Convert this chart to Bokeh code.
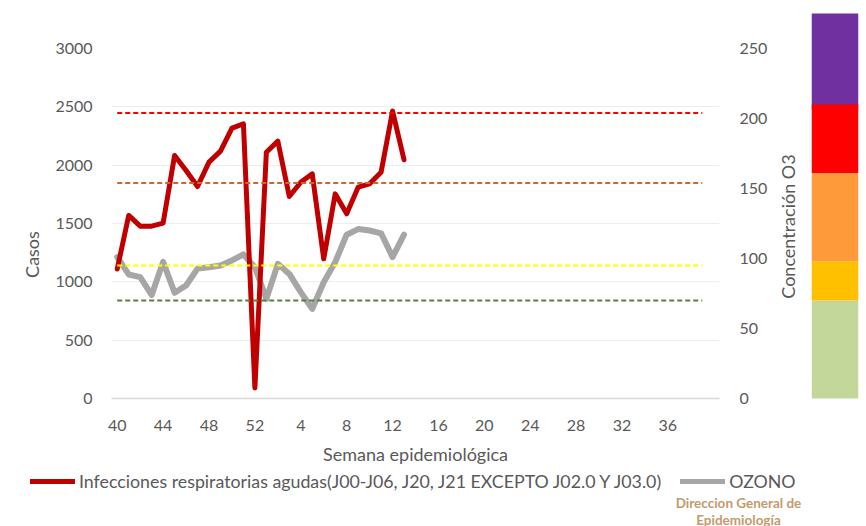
from bokeh.plotting import figure
from bokeh.layouts import row, column
from bokeh.models import Range1d, LinearAxis, FixedTicker, Legend, LegendItem, Label
from bokeh.embed import file_html
from bokeh.resources import INLINE

# ---------------- data ----------------
weeks = list(range(40, 53)) + list(range(1, 41))          # epidemiological weeks (categories)
tick_step = 4
cases = [1110, 1569, 1477, 1477, 1503, 2083, 1954, 1817, 2026, 2120, 2317, 2354, 91,
         2111, 2206, 1731, 1854, 1926, 1197, 1754, 1583, 1811, 1840, 1940, 2463, 2046]
ozone = [101, 88.6, 86.7, 74, 97.6, 75.5, 80.7, 92.8, 93.8, 95, 98.6, 102.9, 93.8,
         71.2, 96.2, 89, 76, 64, 83, 97.4, 117, 121, 120, 118, 101, 117]
threshold_values = [204, 154, 95, 70]
threshold_colors = ["#FF0000", "#D0652A", "#FFFF00", "#548235"]
threshold_last_week = 39
band_bottoms = [0, 70, 98, 206.5, 161]
band_tops = [70, 98, 161, 276, 210]
band_colors = ["#C4D79B", "#FFC000", "#FF9A3A", "#7030A0", "#FF0000"]
cases_ticks = list(range(0, 3001, 500))
ozone_ticks = list(range(0, 251, 50))
ozone_max = 250

cases_title = "Casos"
ozone_title = "Concentración O3"
week_title = "Semana epidemiológica"
series_label = "Infecciones respiratorias agudas(J00-J06, J20, J21 EXCEPTO J02.0 Y J03.0)"
ozone_label = "OZONO"
credit_lines = ["Direccion General de", "Epidemiología"]

FONT = "Lato"
TXT = "#595959"
RED = "#C00000"
GREY = "#A6A6A6"


def bare(fig):
    fig.grid.visible = False
    fig.outline_line_color = None
    fig.background_fill_color = "white"
    fig.border_fill_color = "white"


def style_axis(ax, label_px="16px"):
    ax.axis_line_color = None
    ax.major_tick_line_color = None
    ax.minor_tick_line_color = None
    ax.major_tick_out = 0
    ax.major_tick_in = 0
    ax.minor_tick_out = 0
    ax.minor_tick_in = 0
    ax.major_label_text_font = FONT
    ax.major_label_text_font_size = label_px
    ax.major_label_text_color = TXT
    ax.axis_label_text_font = FONT
    ax.axis_label_text_font_size = "18px"
    ax.axis_label_text_font_style = "normal"
    ax.axis_label_text_color = TXT


# ---------------- main chart ----------------
p = figure(width=718, height=470,
           x_range=Range1d(-0.5, len(weeks) - 0.5), y_range=Range1d(0, 3000),
           output_backend="svg", toolbar_location=None,
           min_border_left=57, min_border_right=48, min_border_top=48, min_border_bottom=72)
p.outline_line_color = None
p.background_fill_color = "white"
p.border_fill_color = "white"
p.extra_y_ranges = {"o3": Range1d(0, ozone_max)}

ya = p.yaxis[0]
style_axis(ya)
ya.ticker = FixedTicker(ticks=cases_ticks)
ya.major_label_standoff = 19

tick_idx = list(range(0, 49, tick_step))
xa = p.xaxis[0]
style_axis(xa)
xa.ticker = FixedTicker(ticks=tick_idx)
xa.major_label_overrides = {i: str(weeks[i]) for i in tick_idx}
xa.axis_label = week_title
xa.axis_line_color = "#D9D9D9"
xa.axis_line_width = 1.5
xa.major_label_standoff = 21
xa.axis_label_standoff = 9

ra = LinearAxis(y_range_name="o3", ticker=FixedTicker(ticks=ozone_ticks))
style_axis(ra)
ra.major_label_standoff = 20
p.add_layout(ra, "right")

p.xgrid.visible = False
p.ygrid.grid_line_color = "#EDEDED"
p.ygrid.grid_line_width = 1

x_oz = list(range(len(ozone)))
x_cases = list(range(len(cases)))
p.line(x_oz, ozone, y_range_name="o3", line_color=GREY, line_width=6,
       line_join="round", line_cap="round")
p.line(x_cases, cases, line_color=RED, line_width=5,
       line_join="round", line_cap="round")

x_end = weeks.index(threshold_last_week, 13)
p.segment(x0=[0] * len(threshold_values), x1=[x_end] * len(threshold_values),
          y0=threshold_values, y1=threshold_values, line_color=threshold_colors,
          line_width=2, line_dash="5 3", y_range_name="o3")

# ---------------- left title strip ("Casos") ----------------
L = figure(width=52, height=470, x_range=Range1d(0, 1), y_range=Range1d(0, 1),
           output_backend="svg", toolbar_location=None,
           min_border_left=45, min_border_right=0, min_border_top=110, min_border_bottom=72)
bare(L)
L.xaxis.visible = False
style_axis(L.yaxis[0])
L.yaxis[0].ticker = FixedTicker(ticks=[])
L.yaxis[0].axis_label = cases_title
L.yaxis[0].axis_label_standoff = 3

# ---------------- colour scale strip with ozone title ----------------
px_per_o3 = 350 / ozone_max
b = figure(width=96, height=470, x_range=Range1d(0, 47),
           y_range=Range1d(-(439 - 398) / px_per_o3, (398 - 13) / px_per_o3),
           output_backend="svg", toolbar_location=None,
           min_border_left=41, min_border_right=8, min_border_top=13, min_border_bottom=31)
bare(b)
b.xaxis.visible = False
style_axis(b.yaxis[0])
b.yaxis[0].ticker = FixedTicker(ticks=[])
b.yaxis[0].axis_label = ozone_title
b.yaxis[0].axis_label_standoff = 13
b.quad(left=0, right=47, bottom=band_bottoms, top=band_tops, fill_color=band_colors, line_color=None)

# ---------------- legend / credit strip ----------------
f = figure(width=866, height=56, x_range=Range1d(0, 866), y_range=Range1d(0, 56),
           output_backend="svg", toolbar_location=None,
           min_border_left=0, min_border_right=0, min_border_top=0, min_border_bottom=0)
bare(f)
f.axis.visible = False
# legend proxies (drawn off-frame; only their legend swatches are visible)
k_cases = f.line(x=[-50, -40], y=[-50, -50], line_color=RED, line_width=5, line_cap="round")
k_oz = f.line(x=[-50, -40], y=[-50, -50], line_color=GREY, line_width=5, line_cap="round")
legend = Legend(items=[LegendItem(label=series_label, renderers=[k_cases]),
                       LegendItem(label=ozone_label, renderers=[k_oz])],
                orientation="horizontal", location=(30, 34),
                label_text_font=FONT, label_text_font_size="17.8px", label_text_color=TXT,
                glyph_width=45, glyph_height=18, label_standoff=4, spacing=19,
                padding=0, margin=0, border_line_color=None, background_fill_alpha=0)
f.add_layout(legend, "center")
for txt, yv in zip(credit_lines, (24, 7)):
    f.add_layout(Label(x=738, y=yv, text=txt, text_align="center", text_baseline="middle",
                       text_font=FONT, text_font_style="bold", text_font_size="13.5px",
                       text_color="#C49A6C"))

top = row(column(L, spacing=0), p, column(b, spacing=0), spacing=0)
layout = column(top, f, spacing=0)
open("out.html", "w").write(file_html(layout, INLINE))
